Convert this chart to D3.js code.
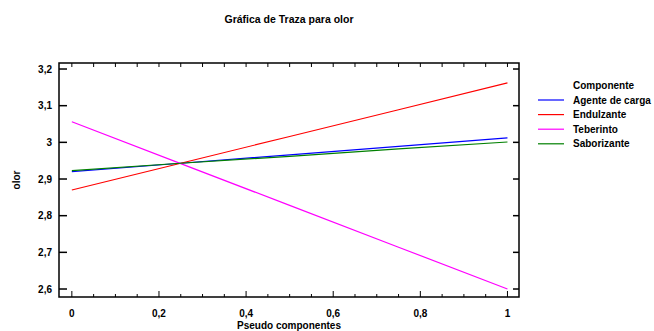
<!DOCTYPE html>
<html>
<head>
<meta charset="utf-8">
<script src="https://cdn.jsdelivr.net/npm/d3@7"></script>
<style>
  body { margin: 0; background: #fff; }
  svg text { font-family: "Liberation Sans", Arial, sans-serif; font-weight: bold; fill: #000; }
</style>
</head>
<body>
<div id="chart"></div>
<script>
// values
const components = ["Agente de carga", "Endulzante", "Teberinto", "Saborizante"];
const colors = ["#0000ff", "#ff0000", "#ff00ff", "#008000"];
const pseudo = [0, 0.25, 0.5, 0.75, 1];
const agente = [2.920, 2.943, 2.966, 2.989, 3.012];
const endulzante = [2.870, 2.943, 3.016, 3.089, 3.162];
const teberinto = [3.056, 2.942, 2.828, 2.714, 2.600];
const saborizante = [2.923, 2.943, 2.962, 2.982, 3.001];
const seriesValues = [agente, endulzante, teberinto, saborizante];
const xTicks = [0, 0.2, 0.4, 0.6, 0.8, 1];
const yTicks = [2.6, 2.7, 2.8, 2.9, 3.0, 3.1, 3.2];

const W = 654, H = 331;
const plot = {left: 59, right: 519, top: 63, bottom: 297};

const svg = d3.select("#chart").append("svg")
  .attr("width", W).attr("height", H);

const x = d3.scaleLinear().domain([-0.0295, 1.0265]).range([plot.left, plot.right]);
const y = d3.scaleLinear().domain([2.5782, 3.2164]).range([plot.bottom, plot.top]);

const fmt = d => String(+d.toFixed(1)).replace(".", ",");

// frame
svg.append("rect")
  .attr("x", plot.left).attr("y", plot.top)
  .attr("width", plot.right - plot.left).attr("height", plot.bottom - plot.top)
  .attr("fill", "none").attr("stroke", "#000").attr("stroke-width", 1.5);

// x ticks, bottom (major every 0.2) and top
const minor = d3.range(0, 21).map(i => i * 0.05);
svg.append("g").selectAll("line").data(minor).enter().append("line")
  .attr("x1", d => x(d)).attr("x2", d => x(d))
  .attr("y1", plot.bottom).attr("y2", (d, i) => plot.bottom - (i % 4 === 0 ? 6 : 3))
  .attr("stroke", "#000");
svg.append("g").selectAll("line").data(minor).enter().append("line")
  .attr("x1", d => x(d)).attr("x2", d => x(d))
  .attr("y1", plot.top).attr("y2", plot.top + 4)
  .attr("stroke", "#000");
svg.append("g").selectAll("text").data(xTicks).enter().append("text")
  .attr("x", d => x(d)).attr("y", 317)
  .attr("text-anchor", "middle").attr("font-size", 10)
  .text(fmt);

// y ticks left and right
svg.append("g").selectAll("line").data(yTicks).enter().append("line")
  .attr("x1", plot.left).attr("x2", plot.left + 8)
  .attr("y1", d => y(d)).attr("y2", d => y(d))
  .attr("stroke", "#000").attr("stroke-width", 1.5);
svg.append("g").selectAll("line").data(yTicks).enter().append("line")
  .attr("x1", plot.right).attr("x2", plot.right - 6)
  .attr("y1", d => y(d)).attr("y2", d => y(d))
  .attr("stroke", "#000").attr("stroke-width", 1.5);
svg.append("g").selectAll("text").data(yTicks).enter().append("text")
  .attr("x", 52).attr("y", d => y(d) + 3.5)
  .attr("text-anchor", "end").attr("font-size", 10)
  .text(fmt);

// series
const line = d3.line().x((d, i) => x(pseudo[i])).y(d => y(d));
svg.append("g").selectAll("path").data(seriesValues).enter().append("path")
  .attr("d", line)
  .attr("fill", "none")
  .attr("stroke", (d, i) => colors[i])
  .attr("stroke-width", 1.2);

// titles
svg.append("text")
  .attr("x", (plot.left + plot.right) / 2).attr("y", 23)
  .attr("text-anchor", "middle").attr("font-size", 10.5)
  .text("Gráfica de Traza para olor");
svg.append("text")
  .attr("x", (plot.left + plot.right) / 2).attr("y", 329)
  .attr("text-anchor", "middle").attr("font-size", 10)
  .text("Pseudo componentes");
svg.append("text")
  .attr("transform", `translate(20,${(plot.top + plot.bottom) / 2}) rotate(-90)`)
  .attr("text-anchor", "middle").attr("font-size", 10)
  .text("olor");

// legend
const legend = svg.append("g");
legend.append("text")
  .attr("x", 573).attr("y", 89).attr("font-size", 10)
  .text("Componente");
const item = legend.selectAll("g.item").data(components).enter().append("g")
  .attr("class", "item")
  .attr("transform", (d, i) => `translate(0,${100 + i * 14.6})`);
item.append("line")
  .attr("x1", 538).attr("x2", 564).attr("y1", 0).attr("y2", 0)
  .attr("stroke", (d, i) => colors[i]).attr("stroke-width", 1.2);
item.append("text")
  .attr("x", 573).attr("y", 3.5).attr("font-size", 10)
  .text(d => d);
</script>
</body>
</html>
